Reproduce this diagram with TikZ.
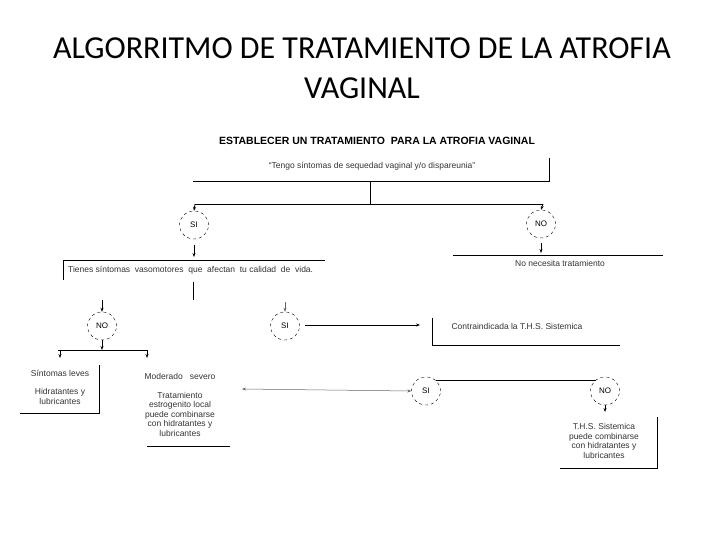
\documentclass[tikz,border=0pt]{standalone}
\usepackage{fontspec}
\setmainfont{Liberation Sans}
\newfontfamily\titlefont{Carlito}
\usetikzlibrary{arrows.meta,shapes.geometric}
\begin{document}
\begin{tikzpicture}[x=1pt,y=-1pt,
  ln/.style={line width=0.8pt},
  arr/.style={ln,-{Stealth[length=4pt,width=3pt]}},
  oval/.style={draw,dashed,ellipse,minimum width=29pt,minimum height=28pt,inner sep=0pt,font=\fontsize{8}{9}\selectfont},
  txt/.style={font=\fontsize{8.5}{10}\selectfont,text=black!80,align=center,inner sep=1pt},
  ]
\useasboundingbox (0,0) rectangle (720,540);
\node[font=\titlefont\fontsize{32}{36}\selectfont] (t1) at (362,48) {ALGORRITMO DE TRATAMIENTO DE LA ATROFIA};
\node[font=\titlefont\fontsize{32}{36}\selectfont] (t2) at (362,88) {VAGINAL};
\node[font=\bfseries\fontsize{10.5}{12}\selectfont] (h) at (377,141) {ESTABLECER UN TRATAMIENTO\ \ PARA LA ATROFIA VAGINAL};
\node[txt] (q) at (372,166) {“Tengo síntomas de sequedad vaginal y/o dispareunia”};
\coordinate (qa) at (193,181); \coordinate (qb) at (549,181); \coordinate (qc) at (549,158);
\draw[ln] (qa) -- (qb) -- (qc);
\coordinate (s1) at (370,181); \coordinate (s2) at (370,204);
\draw[ln] (s1) -- (s2);
\coordinate (b1) at (195,204); \coordinate (b2) at (543,204);
\draw[ln] (b1) -- (b2);
\node[oval] (si1) at (194,225) {SI};
\node[oval] (no1) at (541,224) {NO};
\draw[arr] (b1) -- (si1.north);
\draw[arr] (b2) -- (no1.north);
% Tienes box
\node[txt,anchor=west] (tv) at (67,270) {Tienes síntomas\ \ vasomotores\ \ que\ \ afectan\ \ tu calidad\ \ de\ \ vida.};
\coordinate (tva) at (63,280); \coordinate (tvb) at (63,260); \coordinate (tvc) at (325,260);
\draw[ln] (tva) -- (tvb) -- (tvc);
\coordinate (sa) at (194,245);
\draw[arr] (sa) -- (194,257);
% No necesita
\coordinate (na) at (453,255); \coordinate (nb) at (663,255);
\draw[ln] (na) -- (nb);
\node[txt] (nn) at (560,263) {No necesita tratamiento};
\draw[arr] (541,243) -- (541,253);
\coordinate (v1) at (193,282); \coordinate (v2) at (193,300);
\draw[ln] (v1) -- (v2);
% second level
\node[oval] (no2) at (102,326) {NO};
\node[oval] (si2) at (285,326) {SI};
\draw[arr] (102,300) -- (no2.north);
\draw[arr,black!60,line width=0.5pt] (285,302) -- (si2.north);
\node[txt] (ci) at (517,326) {Contraindicada la T.H.S. Sistemica};
\coordinate (cia) at (432,318); \coordinate (cib) at (432,345); \coordinate (cic) at (620,345);
\draw[ln] (cia) -- (cib) -- (cic);
\coordinate (ar1) at (305,325); \coordinate (ar2) at (420,325);
\draw[arr] (ar1) -- (ar2);
% NO branch
\coordinate (h1) at (58,350); \coordinate (h2) at (148,350);
\draw[arr] (no2.south) -- (102,350);
\draw[ln] (h1) -- (h2);
\draw[arr] (60,350) -- (60,358);
\draw[arr] (147,350) -- (147,358);
\node[txt] (sl) at (60,373) {Síntomas leves};
\node[txt] (hl) at (60,396) {Hidratantes y\\lubricantes};
\coordinate (sla) at (99,365); \coordinate (slb) at (99,413); \coordinate (slc) at (20,413);
\draw[ln] (sla) -- (slb) -- (slc);
\node[txt] (ms) at (180,376) {Moderado\ \ \ severo};
\node[txt,font=\fontsize{8.5}{9.5}\selectfont] (tr) at (180,414) {Tratamiento\\estrogenito local\\puede combinarse\\con hidratantes y\\lubricantes};
\coordinate (bl1) at (147,446); \coordinate (bl2) at (230,446);
\draw[ln] (bl1) -- (bl2);
% third level
\node[oval] (si3) at (426,391) {SI};
\node[oval] (no3) at (605,391) {NO};
\coordinate (dl) at (242,389);
\draw[black!60,line width=0.5pt,{Stealth[length=4pt,width=3pt]}-{Stealth[length=4pt,width=3pt]}] (dl) -- (si3.west);
\coordinate (k1) at (436,380); \coordinate (k2) at (596,380);
\draw[ln] (k1) -- (k2);
\draw[arr] (no3.south) -- (605,412);
\node[txt,font=\fontsize{8.5}{9.5}\selectfont] (ts) at (604,441) {T.H.S. Sistemica\\puede combinarse\\con hidratantes y\\lubricantes};
\coordinate (tsa) at (657,417); \coordinate (tsb) at (657,468); \coordinate (tsc) at (560,468);
\draw[ln] (tsa) -- (tsb) -- (tsc);
\end{tikzpicture}
\end{document}
